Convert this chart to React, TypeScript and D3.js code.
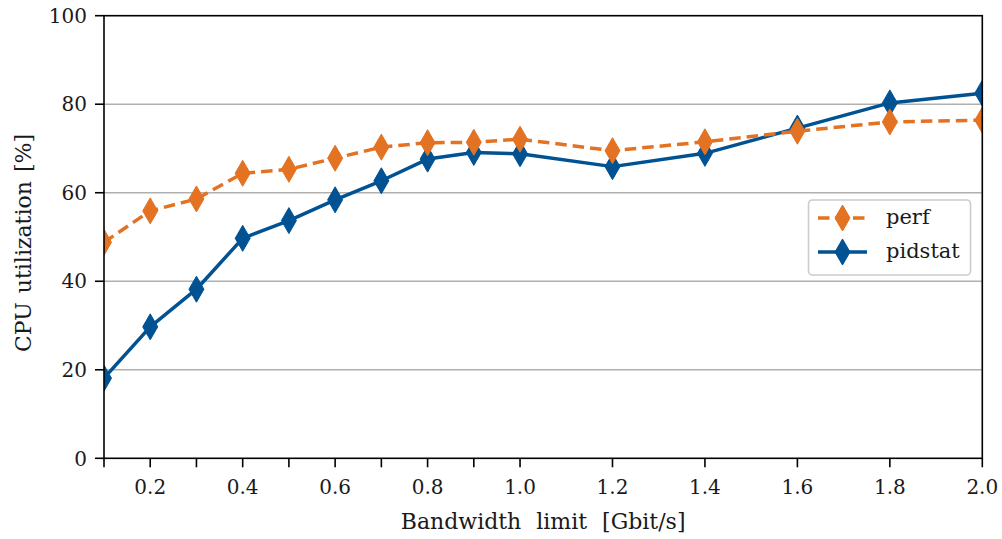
import React from "react";
import * as d3 from "d3";

const bandwidth = [0.1, 0.2, 0.3, 0.4, 0.5, 0.6, 0.7, 0.8, 0.9, 1.0, 1.2, 1.4, 1.6, 1.8, 2.0];
const perfValues = [48.8, 55.9, 58.6, 64.4, 65.3, 67.8, 70.3, 71.3, 71.4, 72.1, 69.5, 71.5, 73.9, 76.0, 76.4];
const pidstatValues = [18.1, 29.7, 38.2, 49.7, 53.7, 58.4, 62.7, 67.6, 69.1, 68.8, 65.9, 68.9, 74.6, 80.3, 82.5];
const yTicks = [0, 20, 40, 60, 80, 100];
const xTickLabels = [0.2, 0.4, 0.6, 0.8, 1.0, 1.2, 1.4, 1.6, 1.8, 2.0];
const seriesNames = ["perf", "pidstat"];

const W = 1002;
const H = 539;
const left = 104;
const right = 982.3;
const top = 15.7;
const bottom = 458.3;
const FONT = "'DejaVu Serif', 'Liberation Serif', serif";
const FS = 20;
const ORANGE = "#E37222";
const BLUE = "#005293";

function diamond(cx: number, cy: number, hw = 7.5, hh = 13) {
  return `M${cx},${cy - hh}L${cx + hw},${cy}L${cx},${cy + hh}L${cx - hw},${cy}Z`;
}

export default function App() {
  const x = d3.scaleLinear().domain([0.1, 2.0]).range([left, right]);
  const y = d3.scaleLinear().domain([0, 100]).range([bottom, top]);
  const line = d3
    .line<number>()
    .x((_, i) => x(bandwidth[i]))
    .y((d) => y(d));

  const series = [
    { name: seriesNames[1], values: pidstatValues, color: BLUE, dash: undefined as string | undefined },
    { name: seriesNames[0], values: perfValues, color: ORANGE, dash: "11.5,6" },
  ];

  return (
    <svg
      width={W}
      height={H}
      style={{ position: "absolute", left: 0, top: 0, background: "#fff" }}
      fontFamily={FONT}
    >
      <defs>
        <clipPath id="plotclip">
          <rect x={left} y={top} width={right - left} height={bottom - top} />
        </clipPath>
      </defs>
      <rect x={0} y={0} width={W} height={H} fill="#fff" />
      {yTicks
        .filter((t) => t > 0 && t < 100)
        .map((t) => (
          <line key={t} x1={left} x2={right} y1={y(t)} y2={y(t)} stroke="#b0b0b0" strokeWidth={1.6} />
        ))}
      <g clipPath="url(#plotclip)">
        {series.map((s) => (
          <g key={s.name}>
            <path
              d={line(s.values) || ""}
              fill="none"
              stroke={s.color}
              strokeWidth={3.5}
              strokeDasharray={s.dash}
              strokeLinejoin="round"
            />
            {s.values.map((v, i) => (
              <path key={i} d={diamond(x(bandwidth[i]), y(v))} fill={s.color} stroke={s.color} strokeWidth={1} />
            ))}
          </g>
        ))}
      </g>
      <rect x={left} y={top} width={right - left} height={bottom - top} fill="none" stroke="#000" strokeWidth={1.6} />
      {yTicks.map((t) => (
        <g key={t}>
          <line x1={left - 9} x2={left} y1={y(t)} y2={y(t)} stroke="#000" strokeWidth={1.6} />
          <text x={left - 17} y={y(t)} dy="0.36em" textAnchor="end" fontSize={FS} fill="#1a1a1a">
            {t}
          </text>
        </g>
      ))}
      {bandwidth.map((b) => (
        <line key={b} x1={x(b)} x2={x(b)} y1={bottom} y2={bottom + 9} stroke="#000" strokeWidth={1.6} />
      ))}
      {xTickLabels.map((b) => (
        <text key={b} x={x(b)} y={bottom + 36} textAnchor="middle" fontSize={FS} fill="#1a1a1a">
          {b.toFixed(1)}
        </text>
      ))}
      <text
        x={(left + right) / 2}
        y={529}
        textAnchor="middle"
        fontSize={22}
        wordSpacing={8}
        fill="#1a1a1a"
      >
        Bandwidth limit [Gbit/s]
      </text>
      <text
        transform={`translate(31, ${(top + bottom) / 2 + 6}) rotate(-90)`}
        textAnchor="middle"
        fontSize={22}
        wordSpacing={2}
        fill="#1a1a1a"
      >
        CPU utilization [%]
      </text>
      <rect x={808.5} y={200} width={162} height={75} rx={4} fill="#fff" fillOpacity={0.8} stroke="#cccccc" strokeWidth={1.6} />
      {[series[1], series[0]].map((s, i) => {
        const ly = 218 + i * 34;
        return (
          <g key={s.name}>
            <line x1={818} x2={867} y1={ly} y2={ly} stroke={s.color} strokeWidth={3.5} strokeDasharray={s.dash} />
            <path d={diamond(842.5, ly)} fill={s.color} stroke={s.color} strokeWidth={1} />
            <text x={886} y={ly} dy="0.3em" fontSize={21} fill="#1a1a1a">
              {s.name}
            </text>
          </g>
        );
      })}
    </svg>
  );
}
